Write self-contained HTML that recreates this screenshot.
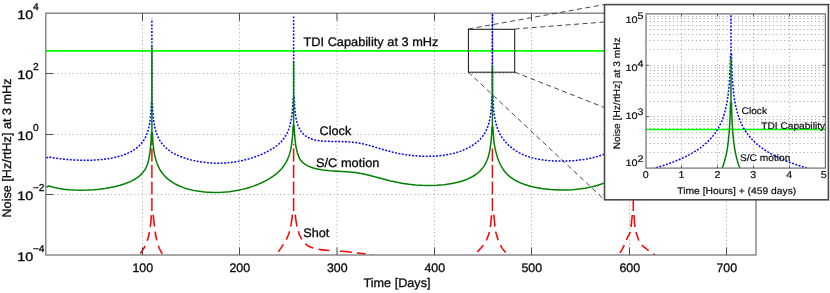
<!DOCTYPE html>
<html><head><meta charset="utf-8"><title>Noise vs Time</title>
<style>html,body{margin:0;padding:0;background:#fff;}body{width:830px;height:293px;overflow:hidden;font-family:"Liberation Sans",sans-serif;}svg{display:block;will-change:transform;}</style>
</head><body>
<svg width="830" height="293" viewBox="0 0 830 293">
<defs>
<clipPath id="cm"><rect x="45.80" y="13.20" width="710.20" height="241.80"/></clipPath>
<clipPath id="ci"><rect x="646.00" y="13.90" width="179.40" height="154.20"/></clipPath>
</defs>
<rect width="830" height="293" fill="#fff"/>
<g stroke="#9a9a9a" stroke-width="0.9" stroke-dasharray="1 2.84" fill="none">
<line x1="142.50" y1="13.20" x2="142.50" y2="255.00"/>
<line x1="239.50" y1="13.20" x2="239.50" y2="255.00"/>
<line x1="337.00" y1="13.20" x2="337.00" y2="255.00"/>
<line x1="434.50" y1="13.20" x2="434.50" y2="255.00"/>
<line x1="531.50" y1="13.20" x2="531.50" y2="255.00"/>
<line x1="629.50" y1="13.20" x2="629.50" y2="255.00"/>
<line x1="726.50" y1="13.20" x2="726.50" y2="255.00"/>
<line x1="45.80" y1="73.50" x2="756.00" y2="73.50"/>
<line x1="45.80" y1="134.50" x2="756.00" y2="134.50"/>
<line x1="45.80" y1="194.50" x2="756.00" y2="194.50"/>
</g>
<g clip-path="url(#cm)" fill="none" stroke-linejoin="round">
<path d="M151.90 211.00 L151.51 211.19 L150.97 221.18 L150.40 226.14 L149.14 233.54 L147.86 238.89 L146.34 243.12 L143.90 248.08 L141.81 251.44 L139.00 255.00 M151.90 211.00 L152.87 211.23 L154.08 223.17 L155.05 231.11 L155.92 236.53 L157.01 241.44 L158.14 245.28 L159.38 248.49 L160.99 251.59 L163.20 255.00 M293.65 211.00 L292.70 211.06 L291.91 219.51 L291.04 224.96 L289.59 231.28 L288.84 233.66 L287.95 236.02 L286.33 239.66 L284.59 242.67 L279.53 250.15 L276.00 255.00 M293.65 211.00 L294.82 211.32 L295.99 220.75 L296.81 225.67 L298.02 230.56 L299.68 235.23 L301.29 238.37 L302.40 240.08 L303.60 241.66 L304.91 243.14 L306.40 244.57 L307.60 245.53 L308.84 246.32 L311.51 247.48 L314.42 248.39 L317.38 249.06 L320.82 249.61 L328.29 250.40 L341.27 251.15 L347.74 251.73 L357.66 252.90 L372.00 255.00 M492.40 211.00 L491.82 211.48 L490.71 223.94 L489.92 229.87 L488.92 233.75 L487.40 237.97 L486.34 240.26 L485.16 242.47 L484.12 244.14 L482.93 245.75 L480.97 248.05 L478.60 250.60 L476.08 253.03 L473.80 255.00 M492.40 211.00 L493.58 211.46 L494.95 226.40 L495.37 229.86 L496.22 233.77 L498.01 239.49 L499.70 243.71 L501.78 247.67 L502.92 249.26 L506.30 253.00 L507.80 255.00 M633.30 211.00 L632.66 211.24 L631.00 227.71 L630.58 230.65 L630.13 232.53 L629.50 233.87 L627.75 236.98 L624.65 244.35 L622.70 248.41 L620.62 251.80 L618.20 255.00 M633.30 211.00 L633.83 211.13 L634.52 223.11 L634.95 227.10 L635.51 230.53 L638.34 239.20 L639.47 241.92 L640.18 243.14 L640.76 243.90 L641.77 244.99 L643.30 246.37 L648.40 250.48 L655.00 255.00" stroke="#ff0000" stroke-width="1.55" stroke-dasharray="0 4.5 12 5 9 5.5 9 5.5 11 6"/>
<path d="M151.90 211.00 L151.90 130.00 M293.65 211.00 L293.65 144.00 M492.40 211.00 L492.40 146.30 M633.30 211.00 L633.30 146.00" stroke="#ff0000" stroke-width="1.45" stroke-dasharray="13 3.5"/>
<line x1="45.80" y1="50.8" x2="756.00" y2="50.8" stroke="#00ff00" stroke-width="1.7"/>
<path d="M46.40 158.22 L48.39 156.92 L54.07 157.92 L60.23 158.78 L66.38 159.44 L73.01 159.93 L79.63 160.21 L85.79 160.28 L91.94 160.14 L98.09 159.79 L103.30 159.31 L108.03 158.69 L112.29 157.96 L116.55 157.04 L120.34 156.02 L124.12 154.77 L127.44 153.44 L130.75 151.84 L133.59 150.19 L135.96 148.55 L138.32 146.62 L140.22 144.77 L142.11 142.57 L143.77 140.24 L145.29 137.59 L146.53 134.93 L147.53 132.26 L148.47 129.12 L149.30 125.52 L149.92 121.91 L150.45 117.84 L150.84 113.76 L151.43 102.87 L151.89 102.87 L151.89 18.80 M152.35 102.90 L152.84 112.47 L153.60 120.22 L154.67 126.62 L155.31 129.36 L156.10 132.10 L157.07 134.84 L158.05 137.13 L159.15 139.29 L160.30 141.22 L161.89 143.48 L163.41 145.32 L164.83 146.82 L166.72 148.57 L169.09 150.45 L171.46 152.06 L173.82 153.46 L176.66 154.92 L179.50 156.20 L182.81 157.48 L186.13 158.59 L189.91 159.67 L193.70 160.57 L197.96 161.41 L201.75 162.02 L206.01 162.54 L210.27 162.92 L214.53 163.14 L218.79 163.20 L222.57 163.12 L226.36 162.91 L230.62 162.50 L234.41 162.00 L238.67 161.28 L242.93 160.39 L246.71 159.46 L250.50 158.38 L254.29 157.16 L258.07 155.77 L261.86 154.22 L265.65 152.48 L268.96 150.78 L271.80 149.14 L274.64 147.29 L277.00 145.54 L279.37 143.51 L281.26 141.63 L282.68 140.02 L284.10 138.18 L285.54 136.01 L286.59 134.15 L287.71 131.81 L288.66 129.46 L289.60 126.63 L290.98 120.97 L292.01 114.43 L292.75 106.55 L293.20 97.35 L293.66 97.35 L293.66 16.30 M294.12 97.14 L294.61 106.56 L295.37 114.08 L295.92 117.56 L296.54 120.54 L297.20 123.05 L298.02 125.50 L299.03 127.88 L300.04 129.79 L301.24 131.63 L302.68 133.39 L303.98 134.68 L305.88 136.19 L307.77 137.37 L309.66 138.30 L312.03 139.20 L314.87 139.99 L317.71 140.53 L321.02 140.94 L327.18 141.30 L340.90 141.55 L346.58 141.76 L352.26 142.19 L357.47 142.84 L362.20 143.69 L366.93 144.79 L388.23 151.02 L394.39 152.57 L400.07 153.77 L407.17 154.94 L414.27 155.77 L421.37 156.26 L427.99 156.40 L436.04 156.12 L443.14 155.39 L450.24 154.12 L454.02 153.21 L457.34 152.26 L460.65 151.15 L463.49 150.06 L466.33 148.82 L469.17 147.39 L472.01 145.75 L474.38 144.18 L476.74 142.37 L478.64 140.71 L480.53 138.80 L481.95 137.16 L483.37 135.29 L484.56 133.48 L485.74 131.39 L486.68 129.42 L487.63 127.09 L488.48 124.55 L489.82 119.16 L490.81 112.84 L491.49 105.61 L491.95 96.53 L492.41 96.53 L492.41 5.00 M492.87 96.59 L493.36 106.18 L494.12 113.97 L495.19 120.42 L496.62 126.00 L497.57 128.77 L498.52 131.08 L499.73 133.59 L500.88 135.64 L502.30 137.85 L503.72 139.79 L505.62 142.08 L507.51 144.11 L509.40 145.91 L511.77 147.91 L514.14 149.66 L516.50 151.22 L519.34 152.85 L522.18 154.27 L525.02 155.49 L527.86 156.54 L530.70 157.43 L534.02 158.30 L537.33 159.02 L541.11 159.68 L548.69 160.61 L557.21 161.12 L566.20 161.12 L575.19 160.58 L583.71 159.52 L587.97 158.77 L592.23 157.86 L596.02 156.89 L599.81 155.76 L603.12 154.60 L606.43 153.27 L609.27 151.95 L612.11 150.43 L614.95 148.65 L617.32 146.93 L619.21 145.33 L621.11 143.49 L623.00 141.33 L624.29 139.60 L625.72 137.36 L626.93 135.10 L627.94 132.85 L628.95 130.13 L629.76 127.42 L630.43 124.70 L631.05 121.52 L631.59 117.89 L632.35 110.16 L632.84 100.61 L633.30 100.61 L633.30 16.00 M633.76 100.62 L634.39 112.00 L634.90 117.00 L635.48 121.10 L636.25 125.07 L637.10 128.38 L638.14 131.57 L639.25 134.29 L640.63 137.02 L642.32 139.72 L644.30 142.28 L646.19 144.31 L648.56 146.41 L650.92 148.17 L653.76 149.94 L657.08 151.66 L661.34 153.48 L665.60 154.96 L670.33 156.32 L675.54 157.53 L681.22 158.59 L687.37 159.49 L694.00 160.23 L700.62 160.75 L707.72 161.10 L715.29 161.25 L722.87 161.18 L729.97 160.92 L737.07 160.45 L743.69 159.80 L749.85 159.00 L756.00 157.95" stroke="#0000ff" stroke-width="1.5" stroke-dasharray="1.9 1.53"/>
<line x1="492.42" y1="13" x2="492.42" y2="104" stroke="#0000ff" stroke-width="1.5" stroke-dasharray="1.9 1.53" stroke-dashoffset="1.7" opacity="0.85"/>
<path d="M46.40 187.27 L48.69 185.97 L53.42 187.32 L58.15 188.33 L63.36 189.15 L69.04 189.74 L74.71 190.08 L80.86 190.20 L87.01 190.08 L93.64 189.70 L99.32 189.16 L104.99 188.41 L110.20 187.53 L115.40 186.43 L120.13 185.21 L124.86 183.74 L128.65 182.31 L132.43 180.56 L134.80 179.25 L137.17 177.71 L139.53 175.86 L141.42 174.09 L143.20 172.08 L144.73 169.98 L145.96 167.88 L146.91 165.79 L147.85 163.04 L148.61 160.08 L149.32 156.52 L149.94 152.52 L150.47 148.04 L150.89 143.34 L151.45 132.49 L151.91 132.49 L151.91 46.50 M152.37 132.09 L152.86 141.47 L153.62 149.00 L154.69 155.23 L155.45 158.41 L156.27 161.19 L157.27 164.01 L158.29 166.38 L159.49 168.78 L160.82 171.01 L162.24 173.05 L163.66 174.81 L165.55 176.85 L167.44 178.60 L169.81 180.49 L172.18 182.12 L174.54 183.54 L177.38 185.03 L180.22 186.31 L183.53 187.60 L186.84 188.69 L190.15 189.60 L193.47 190.37 L197.25 191.07 L204.82 192.02 L212.86 192.46 L217.12 192.48 L221.38 192.34 L225.16 192.09 L229.42 191.65 L233.68 191.05 L237.94 190.29 L242.20 189.37 L245.98 188.41 L250.24 187.16 L254.02 185.88 L257.81 184.43 L261.59 182.79 L264.91 181.19 L268.22 179.39 L271.06 177.66 L273.90 175.71 L276.26 173.88 L278.63 171.79 L280.52 169.88 L282.41 167.70 L283.83 165.82 L285.23 163.71 L286.57 161.35 L287.62 159.17 L288.64 156.69 L289.51 154.13 L290.22 151.62 L290.93 148.56 L291.99 142.03 L292.72 134.29 L293.18 125.19 L293.64 125.19 L293.64 62.10 M294.10 125.19 L294.62 135.20 L295.41 142.95 L295.97 146.60 L296.60 149.74 L297.30 152.50 L298.15 155.15 L298.97 157.19 L299.80 158.83 L300.71 160.27 L301.81 161.59 L303.23 162.91 L305.12 164.28 L307.01 165.41 L308.91 166.34 L311.74 167.47 L315.06 168.47 L318.84 169.30 L322.63 169.90 L330.20 170.65 L349.59 171.91 L355.27 172.53 L360.95 173.42 L364.73 174.16 L368.99 175.16 L384.13 179.30 L390.75 180.98 L396.91 182.33 L403.06 183.44 L409.21 184.30 L415.36 184.93 L421.98 185.36 L428.13 185.53 L436.65 185.35 L444.22 184.72 L451.79 183.60 L455.57 182.81 L458.88 181.99 L462.20 181.01 L465.03 180.02 L467.87 178.88 L470.71 177.55 L473.08 176.25 L475.44 174.75 L477.34 173.36 L479.23 171.74 L481.12 169.85 L482.41 168.34 L483.70 166.59 L484.83 164.82 L485.85 162.95 L486.86 160.75 L487.74 158.43 L488.48 156.08 L489.82 150.33 L490.76 144.10 L491.49 136.05 L491.95 126.73 L492.41 126.73 L492.41 65.50 M492.87 126.22 L493.36 135.54 L494.12 143.01 L495.19 149.18 L496.73 155.12 L497.77 158.28 L499.01 161.50 L500.26 164.28 L501.46 166.61 L502.88 168.97 L504.30 170.98 L505.72 172.72 L507.61 174.69 L509.51 176.37 L511.40 177.83 L513.76 179.41 L516.13 180.78 L518.97 182.20 L521.81 183.42 L524.65 184.48 L527.96 185.55 L531.27 186.47 L535.06 187.36 L542.62 188.70 L550.67 189.58 L558.71 189.99 L567.70 189.93 L572.43 189.68 L576.69 189.32 L580.95 188.82 L585.21 188.18 L589.46 187.38 L593.25 186.52 L597.03 185.51 L600.82 184.32 L604.13 183.10 L607.44 181.70 L610.28 180.30 L613.12 178.69 L615.48 177.14 L617.85 175.34 L619.74 173.68 L621.64 171.75 L623.30 169.76 L624.59 167.96 L625.98 165.71 L627.14 163.45 L628.12 161.19 L629.09 158.47 L629.88 155.75 L630.52 153.02 L631.59 146.66 L632.35 138.93 L632.84 129.38 L633.30 129.38 L633.30 60.00 M633.76 129.38 L634.05 135.75 L634.41 140.97 L634.88 145.63 L635.48 149.85 L636.18 153.48 L637.09 157.12 L638.19 160.46 L639.46 163.47 L640.88 166.18 L642.63 168.89 L644.34 171.07 L646.71 173.57 L649.08 175.64 L651.91 177.72 L655.23 179.75 L658.54 181.44 L662.32 183.07 L666.58 184.60 L670.84 185.86 L675.57 187.01 L680.30 187.92 L685.51 188.69 L691.18 189.30 L696.86 189.72 L703.48 190.00 L710.11 190.09 L717.20 190.00 L724.30 189.75 L731.87 189.32 L739.44 188.74 L756.00 187.01" stroke="#008000" stroke-width="1.5"/>
</g>
<rect x="45.80" y="13.20" width="710.20" height="241.80" stroke="#747474" stroke-width="1.25" fill="none"/>
<g stroke="#3c3c3c" stroke-width="0.9" fill="none">
<line x1="142.50" y1="255.00" x2="142.50" y2="247.40"/>
<line x1="142.50" y1="13.20" x2="142.50" y2="20.80"/>
<line x1="239.50" y1="255.00" x2="239.50" y2="247.40"/>
<line x1="239.50" y1="13.20" x2="239.50" y2="20.80"/>
<line x1="337.00" y1="255.00" x2="337.00" y2="247.40"/>
<line x1="337.00" y1="13.20" x2="337.00" y2="20.80"/>
<line x1="434.50" y1="255.00" x2="434.50" y2="247.40"/>
<line x1="434.50" y1="13.20" x2="434.50" y2="20.80"/>
<line x1="531.50" y1="255.00" x2="531.50" y2="247.40"/>
<line x1="531.50" y1="13.20" x2="531.50" y2="20.80"/>
<line x1="629.50" y1="255.00" x2="629.50" y2="247.40"/>
<line x1="629.50" y1="13.20" x2="629.50" y2="20.80"/>
<line x1="726.50" y1="255.00" x2="726.50" y2="247.40"/>
<line x1="726.50" y1="13.20" x2="726.50" y2="20.80"/>
<line x1="45.80" y1="73.50" x2="53.40" y2="73.50"/>
<line x1="756.00" y1="73.50" x2="748.40" y2="73.50"/>
<line x1="45.80" y1="134.50" x2="53.40" y2="134.50"/>
<line x1="756.00" y1="134.50" x2="748.40" y2="134.50"/>
<line x1="45.80" y1="194.50" x2="53.40" y2="194.50"/>
<line x1="756.00" y1="194.50" x2="748.40" y2="194.50"/>
</g>
<rect x="468.4" y="29.3" width="46.3" height="42.9" fill="none" stroke="#111" stroke-width="1.0"/>
<g stroke="#333" stroke-width="0.9" stroke-dasharray="5 3.5" fill="none">
<line x1="468.3" y1="29" x2="604.5" y2="4.5"/>
<line x1="514.7" y1="29" x2="829.5" y2="4.5"/>
<line x1="468.3" y1="72.1" x2="604.5" y2="199.8"/>
<line x1="514.7" y1="72.1" x2="838" y2="199.8"/>
</g>
<g font-family="Liberation Sans, sans-serif" fill="#0a0a0a" stroke="#0a0a0a" stroke-width="0.3" text-rendering="geometricPrecision">
<text transform="translate(142.80,271.80) scale(1.000,1)" font-size="12.40" text-anchor="middle">100</text>
<text transform="translate(239.80,271.80) scale(1.000,1)" font-size="12.40" text-anchor="middle">200</text>
<text transform="translate(337.30,271.80) scale(1.000,1)" font-size="12.40" text-anchor="middle">300</text>
<text transform="translate(434.80,271.80) scale(1.000,1)" font-size="12.40" text-anchor="middle">400</text>
<text transform="translate(531.80,271.80) scale(1.000,1)" font-size="12.40" text-anchor="middle">500</text>
<text transform="translate(629.80,271.80) scale(1.000,1)" font-size="12.40" text-anchor="middle">600</text>
<text transform="translate(726.80,271.80) scale(1.000,1)" font-size="12.40" text-anchor="middle">700</text>
<text transform="translate(397.00,286.80) scale(1.020,1)" font-size="12.40" text-anchor="middle">Time [Days]</text>
<text transform="translate(10.80,148.00) rotate(-90) scale(1.020,1)" font-size="12.40" text-anchor="middle">Noise [Hz/rtHz] at 3 mHz</text>
<text transform="translate(17.30,18.70) scale(1.160,1)" font-size="12.40">10</text>
<text transform="translate(32.90,9.70) scale(1.020,1)" font-size="10.00">4</text>
<text transform="translate(17.30,79.20) scale(1.160,1)" font-size="12.40">10</text>
<text transform="translate(32.90,70.20) scale(1.020,1)" font-size="10.00">2</text>
<text transform="translate(17.30,139.70) scale(1.160,1)" font-size="12.40">10</text>
<text transform="translate(32.90,130.70) scale(1.020,1)" font-size="10.00">0</text>
<text transform="translate(17.30,200.20) scale(1.160,1)" font-size="12.40">10</text>
<text transform="translate(32.90,191.20) scale(1.020,1)" font-size="10.00">−2</text>
<text transform="translate(17.30,260.70) scale(1.160,1)" font-size="12.40">10</text>
<text transform="translate(32.90,251.70) scale(1.020,1)" font-size="10.00">−4</text>
<text transform="translate(303.50,45.80) scale(1.031,1)" font-size="12.40">TDI Capability at 3 mHz</text>
<text transform="translate(319.60,135.40) scale(1.020,1)" font-size="12.40">Clock</text>
<text transform="translate(316.00,167.20) scale(1.035,1)" font-size="12.40">S/C motion</text>
<text transform="translate(303.30,237.00) scale(1.020,1)" font-size="12.40">Shot</text>
</g>
<rect x="604.5" y="4.6" width="223.9" height="195.2" fill="#fff" stroke="#4a4a4a" stroke-width="1.6"/>
<g stroke="#9a9a9a" stroke-width="0.9" stroke-dasharray="1 2.84" fill="none">
<line x1="681.50" y1="13.90" x2="681.50" y2="168.10"/>
<line x1="717.50" y1="13.90" x2="717.50" y2="168.10"/>
<line x1="753.50" y1="13.90" x2="753.50" y2="168.10"/>
<line x1="789.50" y1="13.90" x2="789.50" y2="168.10"/>
<line x1="646.00" y1="152.50" x2="825.40" y2="152.50"/>
<line x1="646.00" y1="143.50" x2="825.40" y2="143.50"/>
<line x1="646.00" y1="137.50" x2="825.40" y2="137.50"/>
<line x1="646.00" y1="132.50" x2="825.40" y2="132.50"/>
<line x1="646.00" y1="128.50" x2="825.40" y2="128.50"/>
<line x1="646.00" y1="124.50" x2="825.40" y2="124.50"/>
<line x1="646.00" y1="121.50" x2="825.40" y2="121.50"/>
<line x1="646.00" y1="119.50" x2="825.40" y2="119.50"/>
<line x1="646.00" y1="116.50" x2="825.40" y2="116.50"/>
<line x1="646.00" y1="101.50" x2="825.40" y2="101.50"/>
<line x1="646.00" y1="92.50" x2="825.40" y2="92.50"/>
<line x1="646.00" y1="85.50" x2="825.40" y2="85.50"/>
<line x1="646.00" y1="80.50" x2="825.40" y2="80.50"/>
<line x1="646.00" y1="76.50" x2="825.40" y2="76.50"/>
<line x1="646.00" y1="73.50" x2="825.40" y2="73.50"/>
<line x1="646.00" y1="70.50" x2="825.40" y2="70.50"/>
<line x1="646.00" y1="67.50" x2="825.40" y2="67.50"/>
<line x1="646.00" y1="65.50" x2="825.40" y2="65.50"/>
<line x1="646.00" y1="49.50" x2="825.40" y2="49.50"/>
<line x1="646.00" y1="40.50" x2="825.40" y2="40.50"/>
<line x1="646.00" y1="34.50" x2="825.40" y2="34.50"/>
<line x1="646.00" y1="29.50" x2="825.40" y2="29.50"/>
<line x1="646.00" y1="25.50" x2="825.40" y2="25.50"/>
<line x1="646.00" y1="21.50" x2="825.40" y2="21.50"/>
<line x1="646.00" y1="18.50" x2="825.40" y2="18.50"/>
<line x1="646.00" y1="16.50" x2="825.40" y2="16.50"/>
</g>
<g clip-path="url(#ci)" fill="none" stroke-linejoin="round">
<line x1="646.00" y1="129.5" x2="825.40" y2="129.5" stroke="#00ff00" stroke-width="1.5"/>
<path d="M646.26 170.53 L658.28 167.12 L664.66 165.07 L670.47 163.02 L675.78 160.97 L680.62 158.92 L685.04 156.87 L689.07 154.83 L692.74 152.78 L697.15 150.05 L700.12 148.00 L703.67 145.27 L706.82 142.54 L709.60 139.80 L712.07 137.07 L714.75 133.66 L716.62 130.93 L718.66 127.52 L720.41 124.10 L721.91 120.69 L723.20 117.27 L724.51 113.18 L725.60 109.08 L726.64 104.30 L727.48 99.52 L728.16 94.74 L729.26 83.82 L730.05 70.16 L730.55 53.78 L731.00 53.78 L731.00 5.00 M731.45 53.78 L731.97 70.85 L732.80 84.50 L733.37 90.65 L734.02 96.11 L734.74 100.89 L735.64 105.67 L736.74 110.45 L737.90 114.54 L739.29 118.64 L740.66 122.05 L742.26 125.47 L744.12 128.88 L746.28 132.29 L748.27 135.03 L751.13 138.44 L753.75 141.17 L756.71 143.90 L760.05 146.63 L763.83 149.36 L766.99 151.41 L771.67 154.14 L775.58 156.19 L781.38 158.92 L786.22 160.97 L791.53 163.02 L797.34 165.07 L803.72 167.12 L810.71 169.16 L823.88 172.58" stroke="#0000ff" stroke-width="1.5" stroke-dasharray="1.9 1.53"/>
<path d="M646.26 218.66 L658.28 215.24 L664.66 213.19 L670.47 211.15 L675.78 209.10 L680.62 207.05 L685.04 205.00 L689.07 202.95 L692.74 200.90 L697.15 198.17 L700.12 196.13 L703.67 193.39 L706.82 190.66 L709.60 187.93 L712.07 185.20 L714.75 181.79 L716.62 179.06 L718.66 175.64 L720.41 172.23 L721.91 168.82 L723.20 165.40 L724.51 161.30 L725.60 157.21 L726.64 152.43 L727.48 147.65 L728.16 142.87 L729.26 131.95 L730.05 118.29 L730.55 101.90 L731.00 101.90 L731.00 57.80 M731.45 101.90 L731.97 118.97 L732.80 132.63 L733.37 138.77 L734.02 144.24 L734.74 149.02 L735.64 153.79 L736.74 158.57 L737.90 162.67 L739.29 166.77 L740.66 170.18 L742.26 173.59 L744.12 177.01 L746.28 180.42 L748.27 183.15 L751.13 186.57 L753.75 189.30 L756.71 192.03 L760.05 194.76 L763.83 197.49 L766.99 199.54 L771.67 202.27 L775.58 204.32 L781.38 207.05 L786.22 209.10 L791.53 211.15 L797.34 213.19 L803.72 215.24 L810.71 217.29 L823.88 220.70" stroke="#008000" stroke-width="1.5"/>
</g>
<rect x="646.00" y="13.90" width="179.40" height="154.20" stroke="#747474" stroke-width="1.25" fill="none"/>
<g stroke="#4a4a4a" stroke-width="0.9" fill="none">
<line x1="681.50" y1="168.10" x2="681.50" y2="165.50"/>
<line x1="681.50" y1="13.90" x2="681.50" y2="16.50"/>
<line x1="717.50" y1="168.10" x2="717.50" y2="165.50"/>
<line x1="717.50" y1="13.90" x2="717.50" y2="16.50"/>
<line x1="753.50" y1="168.10" x2="753.50" y2="165.50"/>
<line x1="753.50" y1="13.90" x2="753.50" y2="16.50"/>
<line x1="789.50" y1="168.10" x2="789.50" y2="165.50"/>
<line x1="789.50" y1="13.90" x2="789.50" y2="16.50"/>
<line x1="646.00" y1="116.70" x2="649.00" y2="116.70"/>
<line x1="825.40" y1="116.70" x2="822.40" y2="116.70"/>
<line x1="646.00" y1="65.30" x2="649.00" y2="65.30"/>
<line x1="825.40" y1="65.30" x2="822.40" y2="65.30"/>
</g>
<g font-family="Liberation Sans, sans-serif" fill="#0a0a0a" stroke="#0a0a0a" stroke-width="0.18" text-rendering="geometricPrecision">
<text transform="translate(645.70,178.30) scale(1.080,1)" font-size="9.90" text-anchor="middle">0</text>
<text transform="translate(681.58,178.30) scale(1.080,1)" font-size="9.90" text-anchor="middle">1</text>
<text transform="translate(717.46,178.30) scale(1.080,1)" font-size="9.90" text-anchor="middle">2</text>
<text transform="translate(753.34,178.30) scale(1.080,1)" font-size="9.90" text-anchor="middle">3</text>
<text transform="translate(789.22,178.30) scale(1.080,1)" font-size="9.90" text-anchor="middle">4</text>
<text transform="translate(823.80,178.30) scale(1.080,1)" font-size="9.90" text-anchor="middle">5</text>
<text transform="translate(736.80,194.20) scale(1.073,1)" font-size="9.60" text-anchor="middle">Time [Hours] + (459 days)</text>
<text transform="translate(619.70,93.30) rotate(-90) scale(1.060,1)" font-size="9.60" text-anchor="middle">Noise [Hz/rtHz] at 3 mHz</text>
<text transform="translate(625.50,22.50) scale(1.150,1)" font-size="9.50">10</text>
<text transform="translate(637.60,18.80) scale(1.120,1)" font-size="9.60">5</text>
<text transform="translate(625.50,71.00) scale(1.150,1)" font-size="9.50">10</text>
<text transform="translate(637.60,66.70) scale(1.120,1)" font-size="9.60">4</text>
<text transform="translate(625.50,118.90) scale(1.150,1)" font-size="9.50">10</text>
<text transform="translate(637.60,114.80) scale(1.120,1)" font-size="9.60">3</text>
<text transform="translate(625.50,166.40) scale(1.150,1)" font-size="9.50">10</text>
<text transform="translate(637.60,162.30) scale(1.120,1)" font-size="9.60">2</text>
<text transform="translate(741.60,113.70) scale(1.060,1)" font-size="9.60">Clock</text>
<text transform="translate(761.20,128.50) scale(1.060,1)" font-size="9.60">TDI Capability</text>
<text transform="translate(740.00,161.40) scale(1.060,1)" font-size="9.60">S/C motion</text>
</g>
</svg>
</body></html>
